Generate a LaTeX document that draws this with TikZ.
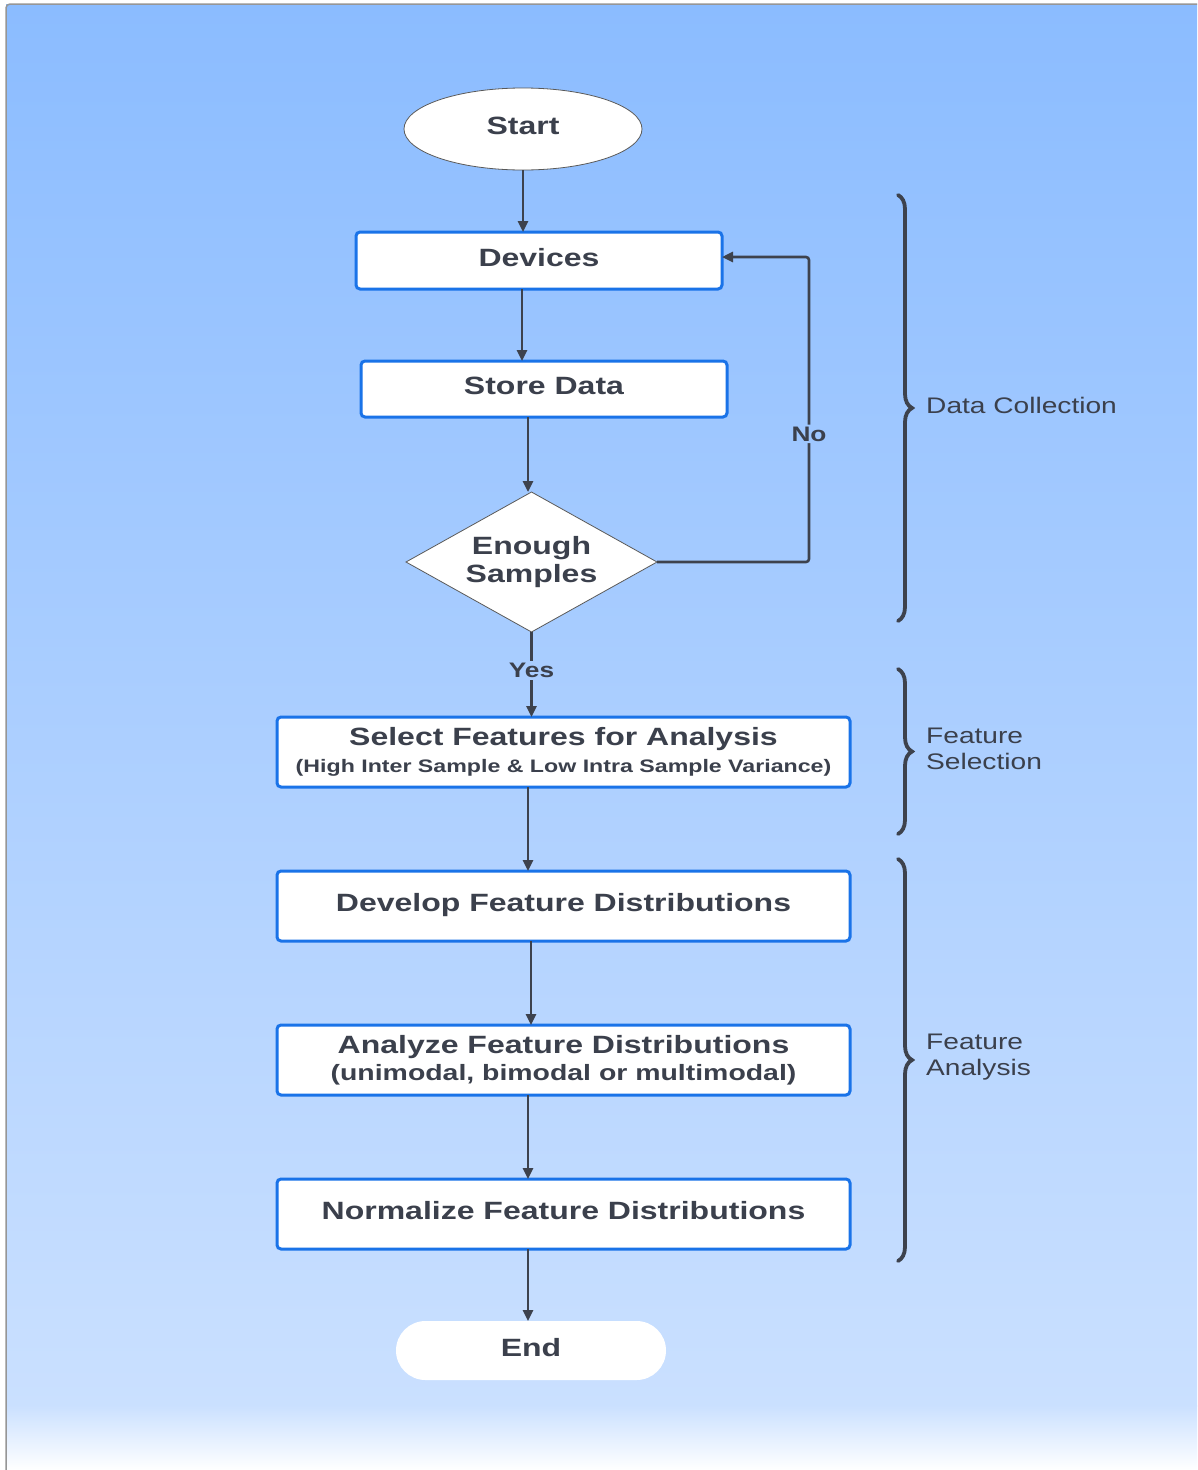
\documentclass[tikz,border=0pt]{standalone}
\usepackage{fontspec}
\usetikzlibrary{shapes.geometric,arrows.meta,decorations.pathreplacing}
\newfontfamily\lab{Liberation Sans}[FakeStretch=1.25]
\newfontfamily\labwide{Liberation Sans}[FakeStretch=1.28]

\definecolor{bgtop}{RGB}{139,188,255}
\definecolor{bgbot}{RGB}{202,224,255}
\definecolor{bgmidA}{RGB}{158,199,255}
\definecolor{bgmidB}{RGB}{169,205,255}
\definecolor{ink}{RGB}{59,64,76}
\definecolor{wire}{RGB}{61,66,77}
\definecolor{boxblue}{RGB}{26,115,232}
\definecolor{frame}{RGB}{150,150,150}

\tikzset{
  title/.style={font=\labwide\bfseries\fontsize{25}{28}\selectfont, text=ink},
  oneline/.style={text height=18pt, text depth=7pt},
  procbox/.style={title, rectangle, draw=boxblue, line width=3pt, rounded corners=4pt,
    fill=white, inner sep=0pt, outer sep=0pt, align=center},
  arr/.style={draw=wire, line width=2.6pt, -{Triangle[length=11pt,width=10pt]}},
  lbl/.style={font=\lab\bfseries\fontsize{21}{24}\selectfont, text=ink, inner sep=2pt},
  grpbrace/.style={draw=wire, line width=3.8pt, line cap=round,
    decorate, decoration={brace, amplitude=14pt}},
  grplabel/.style={font=\lab\fontsize{22.5}{25.5}\selectfont, text=ink, anchor=west,
    align=left, inner sep=0pt}
}

\begin{document}
\begin{tikzpicture}[x=1pt, y=-1pt]
  \useasboundingbox (0,0) rectangle (1197,1470);

  % canvas background
  \fill[white] (0,0) rectangle (1197,1470);
  \shade[top color=bgtop, bottom color=bgbot] (6,4) rectangle (1197,1406);
  \shade[top color=bgbot, bottom color=white] (6,1405) rectangle (1197,1470);
  \draw[frame, line width=1.5pt, rounded corners=4pt] (6,1470) -- (6,4) -- (1197,4);

  % flow nodes
  \node[title, oneline, ellipse, draw=gray!70!black, line width=0.8pt, fill=white,
        minimum width=238, minimum height=82, inner sep=0pt, outer sep=0pt]
        (start) at (523,129) {Start};
  \node[procbox, oneline, minimum width=366, minimum height=57] (dev) at (539,260.5) {Devices};
  \node[procbox, oneline, minimum width=366, minimum height=56] (store) at (544,389) {Store Data};
  \node[title, diamond, draw=gray!70!black, line width=0.8pt, fill=white,
        minimum width=251, minimum height=140, aspect=1.79, inner sep=0pt, outer sep=0pt,
        align=center] (dec) at (531.5,562) {Enough\\Samples};
  \node[procbox, minimum width=573, minimum height=70] (sel) at (563.5,752)
        {Select Features for Analysis\\[-1pt]{\fontsize{18.1}{26}\selectfont(High Inter Sample \& Low Intra Sample Variance)}};
  \node[procbox, oneline, minimum width=573, minimum height=70] (devel) at (563.5,906)
        {Develop Feature Distributions};
  \node[procbox, minimum width=573, minimum height=70] (ana) at (563.5,1060)
        {Analyze Feature Distributions\\[-1pt]{\fontsize{22.2}{26}\selectfont(unimodal, bimodal or multimodal)}};
  \node[procbox, oneline, minimum width=573, minimum height=70] (norm) at (563.5,1214)
        {Normalize Feature Distributions};
  \node[title, oneline, rectangle, rounded corners=29.5pt, fill=white, minimum width=270,
        minimum height=59, inner sep=0pt, outer sep=0pt] (end) at (531,1350.5) {End};

  % connectors
  \draw[arr] (start.south) -- (start.south |- dev.north);
  \draw[arr] (522,0 |- dev.south) -- (522,0 |- store.north);
  \draw[arr] (528,0 |- store.south) -- (528,0 |- dec.north);
  \draw[arr] (dec.south) -- node[lbl, fill=bgmidB, pos=0.45] {Yes} (dec.south |- sel.north);
  \draw[arr, rounded corners=3pt] (dec.east) -- (809,0 |- dec.east)
        -- node[lbl, fill=bgmidA, pos=0.42] {No} (809,257) -- (dev.east |- 0,257);
  \draw[arr] (528,0 |- sel.south) -- (528,0 |- devel.north);
  \draw[arr] (531,0 |- devel.south) -- (531,0 |- ana.north);
  \draw[arr] (528,0 |- ana.south) -- (528,0 |- norm.north);
  \draw[arr] (528,0 |- norm.south) -- (528,0 |- end.north);

  % stage braces
  \draw[grpbrace] (898,195) -- (898,621);
  \draw[grpbrace] (898,669) -- (898,834);
  \draw[grpbrace] (898,859) -- (898,1261);
  \node[grplabel] (lbcol) at (926,405) {Data Collection};
  \node[grplabel] (lbsel) at (926,749) {Feature\\Selection};
  \node[grplabel] (lbana) at (926,1057) {Feature\\Analysis};
\end{tikzpicture}
\end{document}
